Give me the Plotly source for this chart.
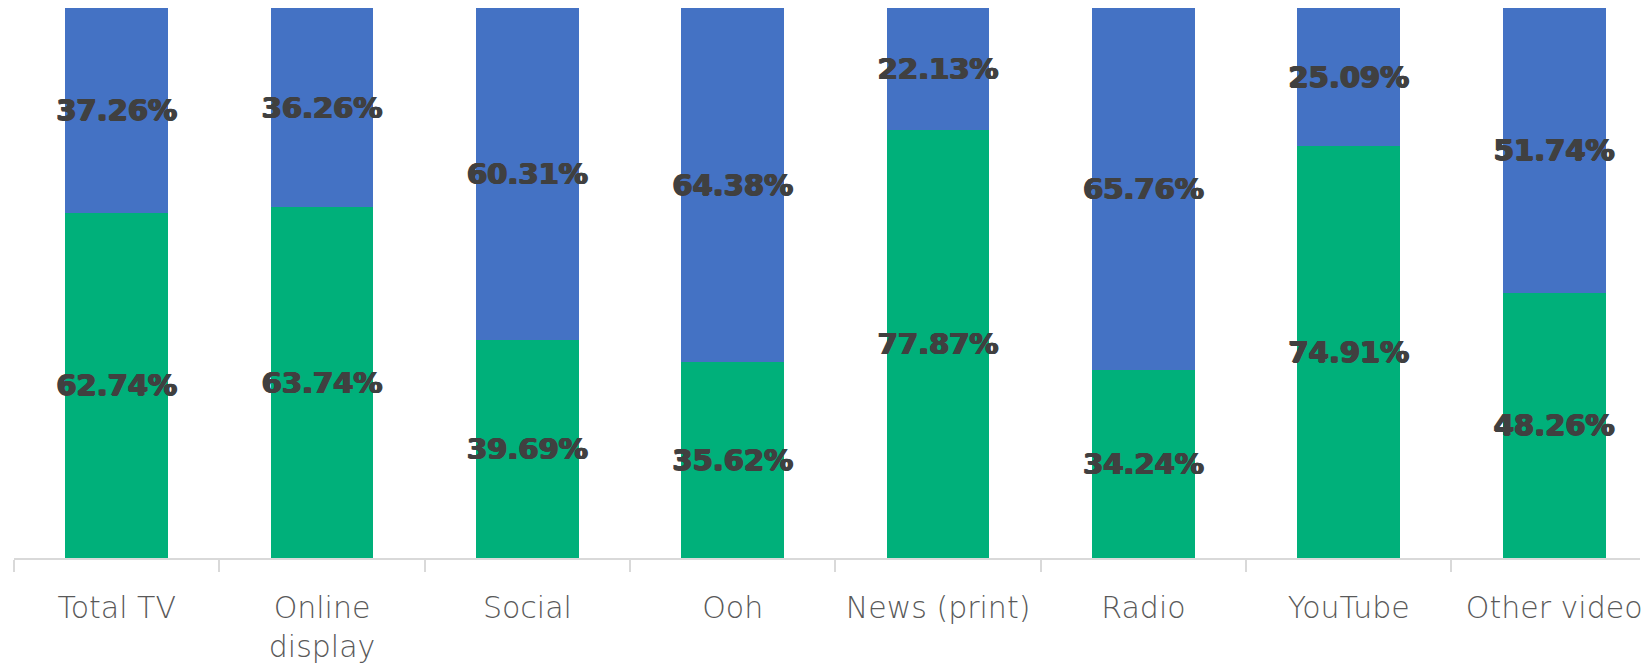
import plotly.graph_objects as go

# Share of each medium, split into two groups (percent)
categories = ["Total TV", "Online<br>display", "Social", "Ooh", "News (print)",
              "Radio", "YouTube", "Other video"]
green_share = [62.74, 63.74, 39.69, 35.62, 77.87, 34.24, 74.91, 48.26]
blue_share = [37.26, 36.26, 60.31, 64.38, 22.13, 65.76, 25.09, 51.74]

GREEN = "#00B07A"
BLUE = "#4472C4"
LABEL_FONT = dict(
    family="DejaVu Sans, sans-serif", size=29, color="#404040", weight=700,
    # slight shadow to make the labels extra heavy
    shadow="0.9px 0 0 #404040, -0.9px 0 0 #404040, 0 0.5px 0 #404040",
)

fig = go.Figure()
for name, vals, col in [("Green", green_share, GREEN), ("Blue", blue_share, BLUE)]:
    fig.add_trace(go.Bar(
        x=categories, y=vals, name=name,
        marker=dict(color=col, line=dict(width=0)),
        width=0.5,
        texttemplate="%{y:.2f}%",
        textposition="inside",
        insidetextanchor="middle",
        textangle=0,
        constraintext="none",
        textfont=LABEL_FONT,
        hoverinfo="skip",
    ))

fig.update_layout(
    barmode="stack",
    width=1642, height=670,
    margin=dict(l=14, r=0, t=8, b=111.5),
    paper_bgcolor="white", plot_bgcolor="white",
    showlegend=False,
    xaxis=dict(
        type="category",
        range=[-0.5, 7.418],
        showline=True, linecolor="#d9d9d9", linewidth=1.5,
        ticks="outside", tickson="boundaries", ticklen=12,
        tickcolor="#d9d9d9", tickwidth=1.5,
        showgrid=False,
        ticklabelstandoff=22,
        tickfont=dict(family="DejaVu Sans, sans-serif", size=30, color="#595959", weight=200),
    ),
    yaxis=dict(range=[0, 100], visible=False, showgrid=False, zeroline=False),
)

fig.write_html("out.html")
